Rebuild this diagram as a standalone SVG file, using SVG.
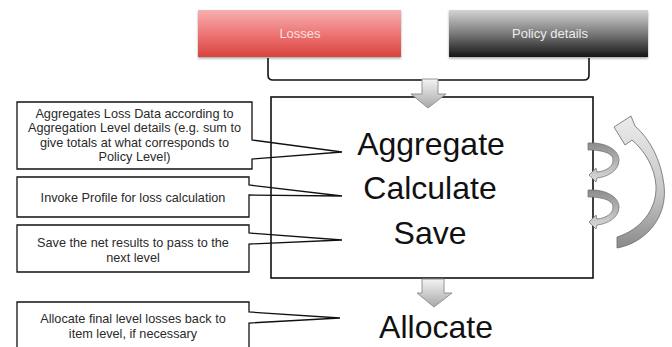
<svg xmlns="http://www.w3.org/2000/svg" width="672" height="347" viewBox="0 0 672 347">
<style>
.call{fill:#fff;stroke:#111;stroke-width:1.3;stroke-linejoin:miter}
.ct{font-family:"Liberation Sans",Arial,sans-serif;font-size:12.7px;fill:#2a2a2a;text-anchor:middle}
.big{font-family:"Liberation Sans",Arial,sans-serif;font-size:32px;fill:#111;text-anchor:middle}
.hdr{font-family:"Liberation Sans",Arial,sans-serif;font-size:13px;text-anchor:middle}
.blk{fill:url(#gArrow);stroke:#8a8a8a;stroke-width:0.9}
.rib{fill:url(#gRib);stroke:#6a6a6a;stroke-width:0.7}
</style>
<defs>
<linearGradient id="gRed" x1="0" y1="0" x2="0" y2="1">
<stop offset="0" stop-color="#f6b0b0"/><stop offset="0.5" stop-color="#ee7676"/><stop offset="1" stop-color="#d8433f"/>
</linearGradient>
<linearGradient id="gBlack" x1="0" y1="0" x2="0" y2="1">
<stop offset="0" stop-color="#d4d4d4"/><stop offset="0.5" stop-color="#7a7a7a"/><stop offset="1" stop-color="#151515"/>
</linearGradient>
<linearGradient id="gArrow" x1="0" y1="0" x2="0" y2="1">
<stop offset="0" stop-color="#f4f4f4"/><stop offset="1" stop-color="#a8a8a8"/>
</linearGradient>
<linearGradient id="gRib" x1="0" y1="0" x2="0" y2="1">
<stop offset="0" stop-color="#8c8c8c"/><stop offset="1" stop-color="#dcdcdc"/>
</linearGradient>
<linearGradient id="gBigArr" x1="0" y1="0" x2="0" y2="1">
<stop offset="0" stop-color="#ececec"/><stop offset="0.6" stop-color="#c4c4c4"/><stop offset="1" stop-color="#8a8a8a"/>
</linearGradient>
<filter id="sh" x="-10%" y="-20%" width="130%" height="160%">
<feDropShadow dx="0" dy="1.5" stdDeviation="1.2" flood-color="#000" flood-opacity="0.35"/>
</filter>
</defs>

<rect width="672" height="347" fill="#fff"/>

<g id="losses">
<rect x="198" y="10" width="203" height="47" fill="url(#gRed)" filter="url(#sh)"/>
<text class="hdr" x="300" y="38" fill="#fbe0e0">Losses</text>
</g>

<g id="policy-details">
<rect x="449" y="10" width="199" height="47" fill="url(#gBlack)" filter="url(#sh)"/>
<text class="hdr" x="550" y="38" fill="#ececec">Policy details</text>
</g>

<g id="main-box">
<rect x="271" y="97" width="322" height="181" fill="#fff"/>
</g>

<g id="callout-aggregate">
<path class="call" d="M17,102 H252 V140 L342,152 L252,159 V169 H17 Z"/>
<text class="ct" x="134.5" y="117.5">Aggregates Loss Data according to</text>
<text class="ct" x="134.5" y="132">Aggregation Level details (e.g. sum to</text>
<text class="ct" x="134.5" y="146.5">give totals at what corresponds to</text>
<text class="ct" x="134.5" y="161">Policy Level)</text>
</g>

<g id="callout-calculate">
<path class="call" d="M17,177 H249 V185 L342,196 L249,195 V217 H17 Z"/>
<text class="ct" x="133" y="202">Invoke Profile for loss calculation</text>
</g>

<g id="callout-save">
<path class="call" d="M17,225 H249 V233 L342,240 L249,244 V272 H17 Z"/>
<text class="ct" x="133" y="247">Save the net results to pass to the</text>
<text class="ct" x="133" y="262">next level</text>
</g>

<g id="callout-allocate">
<path class="call" d="M17,302 H249 V312 L340,318 L249,323 V352 H17 Z"/>
<text class="ct" x="133" y="323">Allocate final level losses back to</text>
<text class="ct" x="133" y="338">item level, if necessary</text>
</g>

<g id="main-box-outline">
<rect x="271" y="97" width="322" height="181" fill="none" stroke="#111" stroke-width="1.6"/>
<text class="big" x="431" y="155">Aggregate</text>
<text class="big" x="430" y="199">Calculate</text>
<text class="big" x="430" y="244">Save</text>
</g>

<g id="allocate">
<text class="big" x="436" y="338">Allocate</text>
</g>

<g id="connectors">
<path d="M268,58 V75 Q268,80 273,80 H584 Q589,80 589,75 V58" fill="none" stroke="#111" stroke-width="1.6"/>
<path class="blk" d="M422,79 H438 V94 H446 L428,108 L411,94 H422 Z"/>
<path class="blk" d="M422,279 H444 V293 H452 L434,307 L417,293 H422 Z"/>
<path d="M617,248 C645,243 668,218 664,185 C661,160 650,139 635,126 L631,116 L614,127 L625,145 L632,140 C645,151 655,168 656,186 C657,210 640,230 617,237 Z" fill="url(#gBigArr)" stroke="#6a6a6a" stroke-width="0.8"/>
<path class="rib" d="M588,143 C606,142 619,150 619,160 C619,171 607,177 597,178 L596,182 L589,175 L596,168 L597,172 C606,171 613,167 613,160 C613,153 602,150 588,150 Z"/>
<path class="rib" d="M588,190 C606,189 619,197 619,207 C619,218 607,224 597,225 L596,229 L589,222 L596,215 L597,219 C606,218 613,214 613,207 C613,200 602,197 588,197 Z"/>
</g>
</svg>
